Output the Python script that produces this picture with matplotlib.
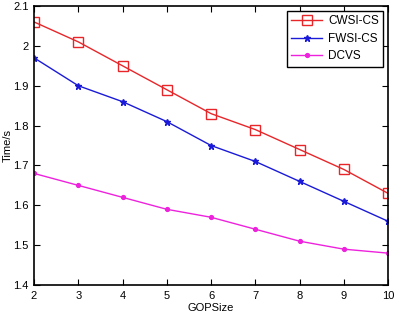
import matplotlib
matplotlib.use('Agg')
import matplotlib.pyplot as plt

gop = [2, 3, 4, 5, 6, 7, 8, 9, 10]
cwsi = [2.06, 2.01, 1.95, 1.89, 1.83, 1.79, 1.74, 1.69, 1.63]
fwsi = [1.97, 1.90, 1.86, 1.81, 1.75, 1.71, 1.66, 1.61, 1.56]
dcvs = [1.68, 1.65, 1.62, 1.59, 1.57, 1.54, 1.51, 1.49, 1.48]

plt.rcParams['font.family'] = 'Liberation Sans'
plt.rcParams['font.size'] = 8

fig = plt.figure(figsize=(3.96, 3.16), dpi=100)
ax = fig.add_axes([0.086, 0.098, 0.894, 0.883])

ax.plot(gop, cwsi, color='#e8262a', lw=1, marker='s', mfc='none', mec='#e8262a', ms=6.5, mew=1, label='CWSI-CS')
ax.plot(gop, fwsi, color='#1a1ad8', lw=1, marker='*', ms=5, label='FWSI-CS')
ax.plot(gop, dcvs, color='#ee22dd', lw=1, marker='.', ms=5.5, label='DCVS')

ax.set_xlim(2, 10)
ax.set_ylim(1.4, 2.1)
ax.set_xticks(gop)
ax.set_yticks([1.4, 1.5, 1.6, 1.7, 1.8, 1.9, 2.0, 2.1])
ax.set_yticklabels(['1.4', '1.5', '1.6', '1.7', '1.8', '1.9', '2', '2.1'])
ax.tick_params(direction='in', top=True, right=True, length=4, width=0.8, pad=4)
for s in ax.spines.values():
    s.set_linewidth(1.2)

ax.set_xlabel('GOPSize', labelpad=2)
ax.set_ylabel('Time/s', labelpad=0)

leg = ax.legend(loc='upper right', fancybox=False, edgecolor='black', framealpha=1,
                borderaxespad=0.4, handlelength=2.6, handletextpad=0.5, fontsize=8.5,
                borderpad=0.4, labelspacing=0.45)
leg.get_frame().set_linewidth(1)

fig.savefig('out.png', dpi=100)
